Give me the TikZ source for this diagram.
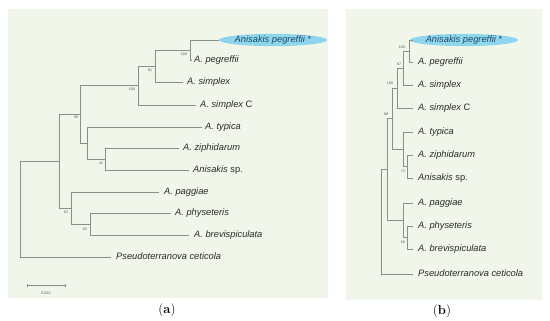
\documentclass[tikz,border=0pt]{standalone}
\usepackage{fontspec}
\newfontfamily\arialf{Liberation Sans}
\usetikzlibrary{shapes.geometric}
\definecolor{panelbg}{HTML}{F0F7EA}
\definecolor{branchc}{HTML}{8C8C8C}
\definecolor{tipc}{HTML}{2A2A2A}
\definecolor{hlfill}{HTML}{8FD6EC}
\definecolor{hltext}{HTML}{1E4D6B}
\tikzset{
  br/.style={draw=branchc, line width=0.8pt},
  tip/.style={anchor=west, inner sep=0pt, text=tipc, font=\arialf\fontsize{9.3}{10}\selectfont\itshape, text height=6.8pt, text depth=1.8pt},
  hl/.style={ellipse, fill=hlfill, inner sep=0pt, minimum width=#1, minimum height=12pt, text=hltext, font=\arialf\fontsize{9.3}{10}\selectfont\itshape},
  bs/.style={inner sep=0pt, text=tipc!80, font=\arialf\fontsize{3.6}{4}\selectfont},
  panel/.style={fill=panelbg, draw=none},
  caplab/.style={inner sep=0pt, text=black, font=\fontsize{13}{14}\selectfont}
}
\begin{document}
\begin{tikzpicture}[x=1pt,y=-1pt]
\useasboundingbox (0,0) rectangle (550,321);
\fill[panel] (8,9) rectangle (328,298);
\fill[panel] (346,9) rectangle (542,300);

% ---------- panel (a) ----------
% tips
\node[hl=88pt] (a1) at (273,40) {Anisakis pegreffii \upshape*};
\node[tip] (a2) at (194,60) {A. pegreffii};
\node[tip] (a3) at (187,82) {A. simplex};
\node[tip] (a4) at (200,105) {A. simplex \upshape C};
\node[tip] (a5) at (205,127) {A. typica};
\node[tip] (a6) at (183,148) {A. ziphidarum};
\node[tip] (a7) at (193,170) {Anisakis \upshape sp.};
\node[tip] (a8) at (164,192) {A. paggiae};
\node[tip] (a9) at (175,213) {A. physeteris};
\node[tip] (a10) at (194,235) {A. brevispiculata};
\node[tip] (a11) at (116,257) {Pseudoterranova ceticola};
% tip ends
\coordinate (e2) at (192,60);
\coordinate (e3) at (183,82);
\coordinate (e4) at (196,105);
\coordinate (e5) at (202,127);
\coordinate (e6) at (179,148);
\coordinate (e7) at (189,170);
\coordinate (e8) at (159,192);
\coordinate (e9) at (171,213);
\coordinate (e10) at (189,235);
\coordinate (e11) at (111,257);
% internal nodes
\coordinate (n1) at (190,50);
\coordinate (n2) at (155,66);
\coordinate (n3) at (138,85.5);
\coordinate (n4) at (80,114);
\coordinate (n5) at (87,143.5);
\coordinate (n6) at (105,159);
\coordinate (n7) at (71,208);
\coordinate (n8) at (90,224);
\coordinate (n9) at (59,161);
\coordinate (n10) at (20,209);
% branches
\draw[br] (n1) |- (a1.west);
\draw[br] (n1) |- (e2);
\draw[br] (n2) |- (n1);
\draw[br] (n2) |- (e3);
\draw[br] (n3) |- (n2);
\draw[br] (n3) |- (e4);
\draw[br] (n4) |- (n3);
\draw[br] (n4) |- (n5);
\draw[br] (n5) |- (e5);
\draw[br] (n5) |- (n6);
\draw[br] (n6) |- (e6);
\draw[br] (n6) |- (e7);
\draw[br] (n7) |- (e8);
\draw[br] (n7) |- (n8);
\draw[br] (n8) |- (e9);
\draw[br] (n8) |- (e10);
\draw[br] (n9) |- (n4);
\draw[br] (n9) |- (n7);
\draw[br] (n10) |- (n9);
\draw[br] (n10) |- (e11);
% bootstrap
\node[bs] (s1) at (184,54) {100};
\node[bs] (s2) at (150,70) {91};
\node[bs] (s3) at (132,89) {100};
\node[bs] (s4) at (76,117) {98};
\node[bs] (s6) at (101,163) {42};
\node[bs] (s7) at (66,212) {92};
\node[bs] (s8) at (85,229) {83};
% scale bar
\coordinate (sb1) at (27,285);
\coordinate (sb2) at (65,285);
\draw[br, line width=0.6pt] (sb1) -- (sb2);
\draw[br, line width=0.6pt] ([yshift=-1.5pt]sb1) -- ([yshift=1.5pt]sb1);
\draw[br, line width=0.6pt] ([yshift=-1.5pt]sb2) -- ([yshift=1.5pt]sb2);
\node[bs] (sbl) at (46,293) {0.020};
\node[caplab] (capa) at (167,310) {(\textbf{a})};

% ---------- panel (b) ----------
\node[hl=92pt] (b1t) at (464,40) {Anisakis pegreffii \upshape*};
\node[tip] (b2t) at (418,62) {A. pegreffii};
\node[tip] (b3t) at (418,85) {A. simplex};
\node[tip] (b4t) at (418,108) {A. simplex \upshape C};
\node[tip] (b5t) at (418,132) {A. typica};
\node[tip] (b6t) at (418,155) {A. ziphidarum};
\node[tip] (b7t) at (418,178) {Anisakis \upshape sp.};
\node[tip] (b8t) at (418,203) {A. paggiae};
\node[tip] (b9t) at (418,226) {A. physeteris};
\node[tip] (b10t) at (418,249) {A. brevispiculata};
\node[tip] (b11t) at (418,274) {Pseudoterranova ceticola};
\coordinate (f1) at (413,40);
\coordinate (f2) at (413,62);
\coordinate (f3) at (413,85);
\coordinate (f4) at (413,108);
\coordinate (f5) at (413,132);
\coordinate (f6) at (413,155);
\coordinate (f7) at (413,178);
\coordinate (f8) at (413,203);
\coordinate (f9) at (413,226);
\coordinate (f10) at (413,249);
\coordinate (f11) at (413,274);
\coordinate (m1) at (409,51);
\coordinate (m2) at (403,68);
\coordinate (m3) at (397,88);
\coordinate (m5) at (407,166.5);
\coordinate (m4) at (403,149);
\coordinate (m6) at (392,118.5);
\coordinate (m8) at (407,237.5);
\coordinate (m7) at (403,220);
\coordinate (m9) at (387,169);
\coordinate (m10) at (381,221.5);
\draw[br] (m1) |- (f1);
\draw[br] (m1) |- (f2);
\draw[br] (m2) |- (m1);
\draw[br] (m2) |- (f3);
\draw[br] (m3) |- (m2);
\draw[br] (m3) |- (f4);
\draw[br] (m6) |- (m3);
\draw[br] (m6) |- (m4);
\draw[br] (m4) |- (f5);
\draw[br] (m4) |- (m5);
\draw[br] (m5) |- (f6);
\draw[br] (m5) |- (f7);
\draw[br] (m7) |- (f8);
\draw[br] (m7) |- (m8);
\draw[br] (m8) |- (f9);
\draw[br] (m8) |- (f10);
\draw[br] (m9) |- (m6);
\draw[br] (m9) |- (m7);
\draw[br] (m10) |- (m9);
\draw[br] (m10) |- (f11);
\node[bs] (r1) at (402,47) {100};
\node[bs] (r2) at (399,64) {87};
\node[bs] (r3) at (390,83) {100};
\node[bs] (r6) at (386,114) {98};
\node[bs] (r5) at (403,171) {72};
\node[bs] (r8) at (403,242) {66};
\node[caplab] (capb) at (442,311) {(\textbf{b})};
\end{tikzpicture}
\end{document}
